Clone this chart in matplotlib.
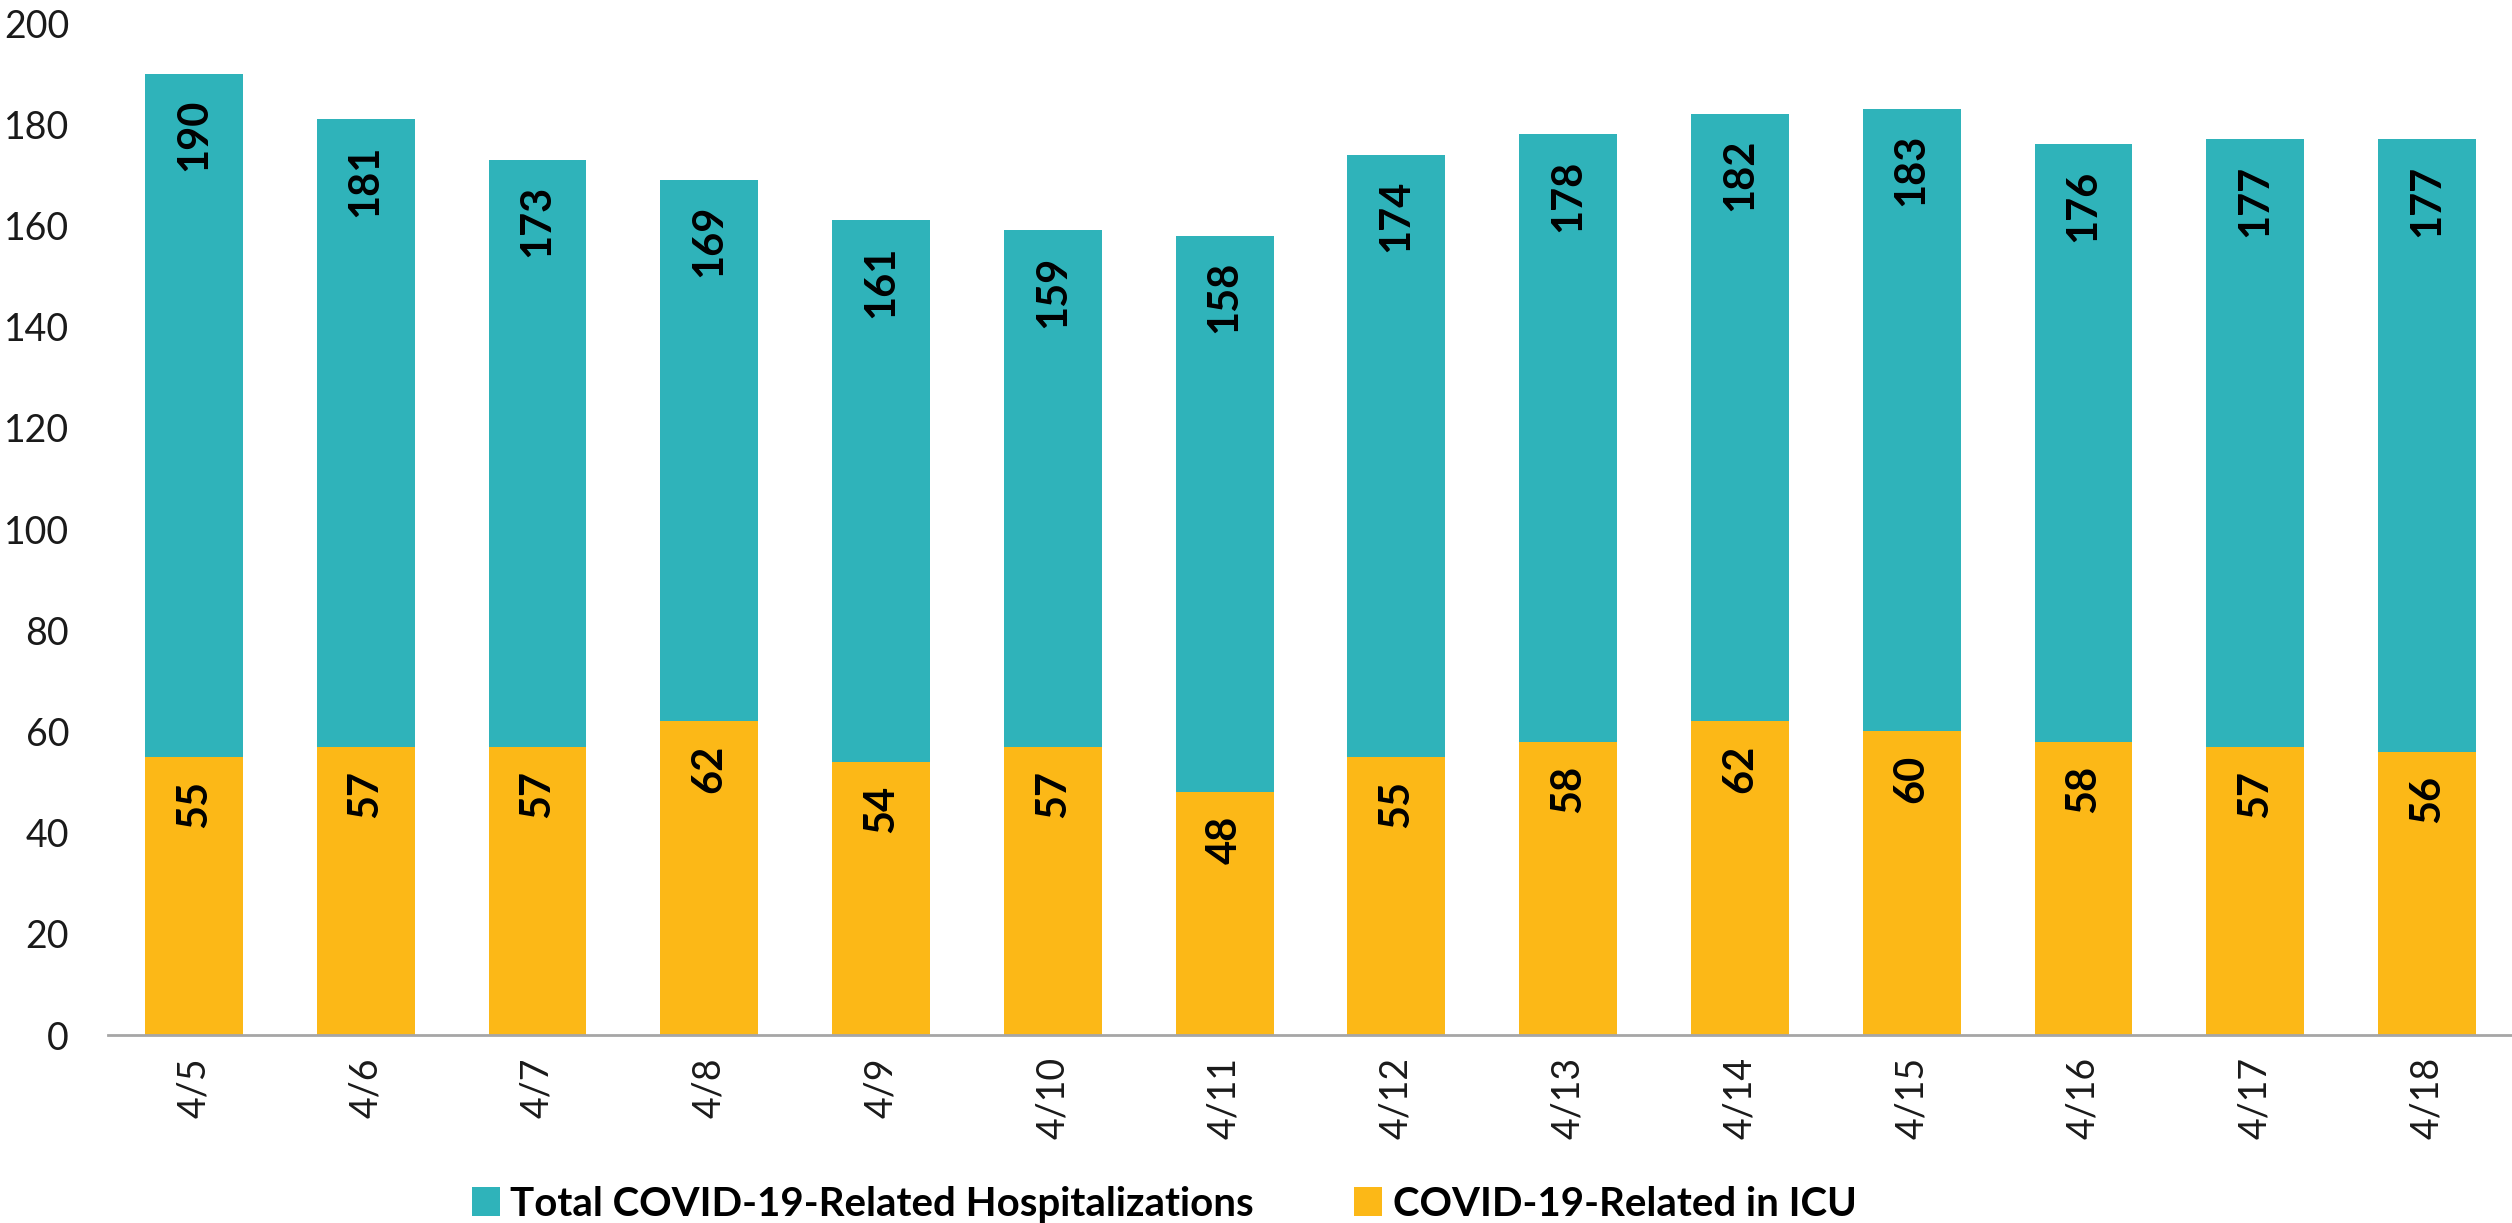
import numpy as np
import matplotlib
matplotlib.use("Agg")
import matplotlib.pyplot as plt

plt.rcParams['font.family'] = ['Lato', 'DejaVu Sans']

dates = ["4/5", "4/6", "4/7", "4/8", "4/9", "4/10", "4/11",
         "4/12", "4/13", "4/14", "4/15", "4/16", "4/17", "4/18"]
total_hosp = [190, 181, 173, 169, 161, 159, 158, 174, 178, 182, 183, 176, 177, 177]
icu = [55, 57, 57, 62, 54, 57, 48, 55, 58, 62, 60, 58, 57, 56]

teal = "#2FB3BA"
gold = "#FCB817"

fig = plt.figure(figsize=(25.12, 12.23), dpi=100)
ax = fig.add_axes([108/2512, 188/1223, 2405/2512, 1012/1223])

x = np.arange(len(dates))
w = 0.57
b1 = ax.bar(x, total_hosp, w, color=teal, label="Total COVID-19-Related Hospitalizations")
b2 = ax.bar(x, icu, w, color=gold, label="COVID-19-Related in ICU")

# labels inside the top of each bar, rotated
for i in range(len(x)):
    ax.annotate(str(total_hosp[i]), xy=(x[i], total_hosp[i]), xytext=(0, -18),
                textcoords="offset points", ha="center", va="top", rotation=90,
                fontsize=30, fontweight="bold", color="black")
    ax.annotate(str(icu[i]), xy=(x[i], icu[i]), xytext=(0, -17),
                textcoords="offset points", ha="center", va="top", rotation=90,
                fontsize=30, fontweight="bold", color="black")

ax.set_xlim(-0.5, 13.5)
ax.set_ylim(0, 200)
ax.set_yticks(np.arange(0, 201, 20))
ax.set_xticks(x)
ax.set_xticklabels(dates, rotation=90)
ax.tick_params(axis="y", length=0, pad=28, labelsize=27, labelcolor="#1a1a1a")
ax.tick_params(axis="x", length=0, pad=16, labelsize=27, labelcolor="#1a1a1a")

for s in ["top", "right", "left"]:
    ax.spines[s].set_visible(False)
ax.spines["bottom"].set_color("#A6A6A6")
ax.spines["bottom"].set_linewidth(2)

fig.legend(handles=[b1, b2], loc="center", bbox_to_anchor=(0.4634, 0.0155), ncol=2,
           frameon=False, handlelength=0.7, handleheight=0.7, handletextpad=0.25,
           columnspacing=2.5, borderaxespad=0,
           prop={"size": 29, "weight": "bold"})

fig.savefig("out.png", dpi=100)
